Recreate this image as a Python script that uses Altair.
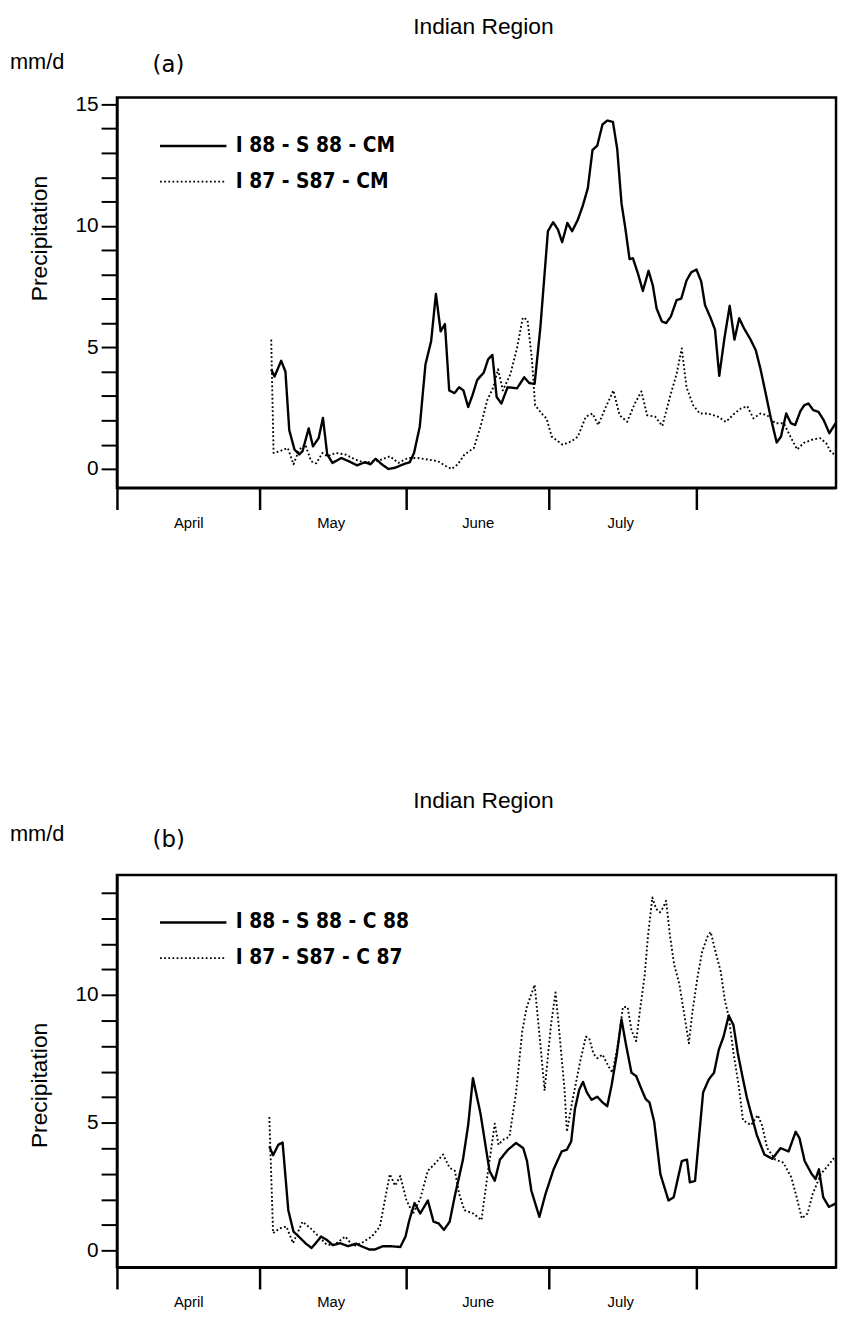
import altair as alt
import pandas as pd

# ---------------- data (day 0 = 1 April) ----------------
MONTH_TICKS = [0, 30, 61, 91, 122]
MONTH_NAMES = ["April", "May", "June", "July", ""]
X_MAX = 151.5

PANEL_TITLE = "Indian Region"
Y_UNIT = "mm/d"
Y_TITLE = "Precipitation"

A_TAG = "(a)"
A_NAMES = ["I 88 - S 88 - CM", "I 87 - S87 - CM"]
a88_day = [32.5, 33.2, 34.6, 35.5, 36.3, 37.4, 38.4, 39.1, 40.4, 41.3, 42.5, 43.4, 44.3, 45.4, 47.3, 48.8,
           50.6, 52.3, 53.4, 54.5, 55.8, 57.2, 58.6, 60.3, 61.7, 62.6, 63.8, 65.0, 66.2, 67.2, 68.2, 69.1,
           70.0, 71.1, 72.1, 73.0, 74.0, 74.9, 75.9, 77.3, 78.2, 79.1, 80.0, 81.0, 82.3, 84.3, 85.8, 86.9,
           88.0, 89.2, 90.8, 91.9, 92.9, 93.8, 94.9, 95.9, 97.1, 98.1, 99.2, 100.2, 101.2, 102.3, 103.3,
           104.5, 105.4, 106.3, 107.1, 108.0, 108.7, 109.8, 110.8, 112.0, 112.9, 113.7, 114.8, 115.7, 116.7,
           117.9, 118.9, 120.0, 121.0, 122.1, 123.1, 123.9, 125.1, 126.0, 126.9, 128.0, 129.1, 130.1, 131.1,
           132.1, 133.5, 134.6, 135.6, 136.7, 137.7, 139.0, 139.9, 141.0, 142.0, 142.9, 144.0, 144.8, 145.7,
           146.7, 147.8, 148.9, 150.1, 151.4]
a88_val = [4.1, 3.8, 4.45, 4.0, 1.6, 0.8, 0.6, 0.73, 1.67, 0.93, 1.27, 2.1, 0.6, 0.25, 0.45, 0.32,
           0.15, 0.28, 0.19, 0.42, 0.19, 0.0, 0.05, 0.19, 0.28, 0.66, 1.74, 4.3, 5.26, 7.2, 5.66, 5.96,
           3.23, 3.12, 3.36, 3.23, 2.55, 3.03, 3.66, 3.97, 4.51, 4.69, 2.96, 2.69, 3.36, 3.32, 3.77, 3.53,
           3.5, 5.8, 9.78, 10.15, 9.85, 9.33, 10.12, 9.78, 10.25, 10.8, 11.54, 13.12, 13.3, 14.17, 14.33,
           14.27, 13.16, 10.93, 9.92, 8.63, 8.67, 8.02, 7.32, 8.15, 7.55, 6.6, 6.07, 6.0, 6.27,
           6.94, 7.01, 7.75, 8.09, 8.2, 7.71, 6.74, 6.2, 5.73, 3.83, 5.39, 6.71, 5.32, 6.2,
           5.79, 5.32, 4.88, 4.1, 3.09, 2.15, 1.09, 1.33, 2.28, 1.88, 1.81, 2.38, 2.62, 2.69,
           2.42, 2.35, 2.01, 1.47, 1.88]
a87_day = [32.5, 33.0, 34.3, 36.0, 37.2, 38.4, 39.7, 40.9, 42.0, 43.3, 44.3, 46.1, 48.2, 50.2, 52.3, 54.1,
           55.8, 57.5, 59.3, 61.3, 63.4, 65.5, 67.6, 69.3, 70.5, 71.8, 73.2, 75.2, 76.6, 78.0, 79.3, 80.3,
           81.3, 82.9, 84.3, 85.5, 86.5, 87.4, 88.1, 89.8, 90.5, 91.6, 93.9, 95.7, 97.1, 98.8, 100.2, 101.4,
           103.0, 104.6, 105.9, 107.5, 109.1, 110.5, 111.7, 113.4, 114.9, 116.5, 117.9, 119.0, 120.0, 121.4,
           122.8, 124.5, 126.6, 128.3, 130.1, 131.4, 132.8, 134.1, 135.6, 137.0, 138.7, 140.5, 141.9, 143.3,
           144.7, 146.4, 148.1, 149.4, 150.5, 151.4]
a87_val = [5.32, 0.66, 0.73, 0.86, 0.19, 0.8, 1.0, 0.32, 0.23, 0.66, 0.52, 0.66, 0.59, 0.39, 0.25, 0.32,
           0.39, 0.52, 0.25, 0.45, 0.45, 0.39, 0.32, 0.12, 0.0, 0.19, 0.59, 0.86, 1.74, 2.82, 3.36, 4.1,
           3.23, 3.9, 4.98, 6.23, 6.13, 4.58, 2.62, 2.21, 2.08, 1.33, 1.0, 1.13, 1.33, 2.15, 2.28, 1.81,
           2.55, 3.23, 2.21, 1.94, 2.69, 3.19, 2.21, 2.15, 1.77, 2.96, 3.9, 4.96, 3.36, 2.62,
           2.28, 2.28, 2.15, 1.94, 2.28, 2.48, 2.58, 2.08, 2.28, 2.21, 1.88, 1.88, 1.33, 0.8,
           1.07, 1.2, 1.27, 1.07, 0.66, 0.6]

B_TAG = "(b)"
B_NAMES = ["I 88 - S 88 - C 88", "I 87 - S87 - C 87"]
b88_day = [32.1, 32.9, 34.0, 34.9, 36.1, 37.2, 38.3, 39.7, 41.0, 41.9, 43.0, 44.2, 45.5, 47.0, 48.7, 50.4,
           51.5, 53.2, 54.3, 56.0, 57.7, 59.7, 60.8, 61.6, 62.7, 63.9, 65.5, 66.7, 67.8, 68.9, 70.1, 71.2,
           72.9, 74.0, 75.0, 76.6, 77.9, 78.5, 79.6, 80.7, 82.4, 84.1, 85.6, 86.4, 87.3, 89.0, 90.3, 92.0,
           93.7, 94.8, 95.7, 96.5, 97.4, 98.2, 99.0, 100.0, 101.2, 102.3, 103.3, 104.2, 105.3, 106.3, 107.2,
           108.4, 109.4, 110.5, 111.4, 112.2, 113.2, 114.5, 116.2, 117.3, 119.0, 120.1, 120.7, 121.8, 123.5,
           124.7, 125.8, 126.8, 127.8, 128.9, 129.9, 130.8, 131.8, 132.7, 133.7, 134.8, 136.4, 138.1, 139.8,
           141.5, 143.0, 143.8, 144.9, 146.4, 147.2, 147.9, 148.8, 150.0, 151.3, 152.2]
b88_val = [4.08, 3.73, 4.14, 4.23, 1.58, 0.74, 0.55, 0.29, 0.1, 0.29, 0.55, 0.42, 0.21, 0.29, 0.17, 0.27,
           0.17, 0.04, 0.04, 0.17, 0.17, 0.14, 0.55, 1.19, 1.86, 1.45, 1.96, 1.13, 1.06, 0.81, 1.13, 2.15,
           3.56, 4.91, 6.75, 5.36, 3.82, 3.12, 2.73, 3.56, 3.95, 4.21, 4.01, 3.5, 2.35, 1.32, 2.22, 3.18,
           3.88, 3.95, 4.27, 5.55, 6.3, 6.6, 6.19, 5.9, 6.02, 5.8, 5.65, 6.45, 7.66, 9.05, 8.11,
           6.96, 6.83, 6.32, 5.93, 5.8, 5.03, 2.99, 1.96, 2.09, 3.5, 3.56, 2.67, 2.73, 6.19,
           6.7, 6.96, 7.86, 8.37, 9.2, 8.82, 7.73, 6.8, 6.0, 5.3, 4.53, 3.76, 3.59, 4.01,
           3.88, 4.65, 4.4, 3.5, 2.99, 2.8, 3.18, 2.09, 1.71, 1.83, 2.03]
b87_day = [32.1, 32.9, 34.3, 35.7, 37.1, 39.1, 40.8, 42.5, 44.2, 45.9, 48.1, 49.8, 51.5, 53.7, 55.4, 56.5,
           57.5, 58.6, 59.7, 61.0, 62.4, 63.9, 65.5, 67.2, 68.7, 70.1, 71.2, 72.1, 73.2, 75.1, 76.8, 77.9,
           79.6, 80.4, 81.3, 82.7, 84.1, 85.4, 86.3, 88.0, 89.2, 90.1, 91.4, 92.4, 93.1, 94.3, 94.8, 95.9,
           97.6, 98.8, 99.5, 100.4, 101.2, 102.3, 103.6, 104.4, 105.6, 106.6, 107.6, 108.4, 109.4, 110.1,
           111.2, 111.9, 112.8, 113.6, 114.4, 115.1, 115.7, 116.5, 117.4, 118.5, 119.5, 120.5, 121.2, 122.3,
           123.3, 124.4, 125.1, 126.1, 127.2, 128.1, 128.9, 129.9, 131.0, 131.9, 133.6, 135.0, 135.9, 137.0,
           138.7, 140.4, 142.1, 143.2, 144.3, 145.5, 146.6, 148.3, 150.0, 151.1, 152.2]
b87_val = [5.23, 0.68, 0.87, 0.94, 0.29, 1.13, 0.87, 0.55, 0.23, 0.23, 0.55, 0.17, 0.29, 0.55, 0.94, 2.03,
           2.99, 2.54, 2.92, 1.96, 1.45, 2.03, 3.12, 3.44, 3.76, 3.24, 3.12, 2.22, 1.58, 1.45, 1.19, 2.73,
           4.97, 4.14, 4.33, 4.46, 6.2, 8.6, 9.5, 10.4, 8.1, 6.26, 8.76, 10.1, 8.76, 6.3, 4.65, 5.81,
           7.4, 8.37, 8.3, 7.7, 7.53, 7.67, 7.2, 6.96, 8.11, 9.53, 9.53, 8.62, 8.2, 9.27,
           10.8, 12.34, 13.82, 13.37, 13.24, 13.43, 13.69, 12.34, 11.19, 10.42, 9.27, 8.11, 9.27, 10.68,
           11.7, 12.28, 12.47, 11.7, 10.93, 9.78, 9.14, 7.73, 6.45, 5.1, 4.91, 5.3, 4.91, 4.01,
           3.56, 3.44, 2.86, 2.09, 1.26, 1.45, 2.22, 2.99, 3.37, 3.63, 3.24]

# ---------------- styling ----------------
SANS = "Liberation Sans, Arial, Helvetica, sans-serif"
STENCIL = "Liberation Sans Narrow, DejaVu Sans Condensed, DejaVu Sans Mono, monospace"
W = 726

month_expr = " : ".join(
    f"datum.value == {v} ? '{n}'" for v, n in zip(MONTH_TICKS, MONTH_NAMES)
) + " : ''"


def panel(d88, v88, d87, v87, names, tag, ydom, ymax_tick, height, ytitle_y, legend_y, title_dy, mm_dy, tag_dy):
    df = pd.concat([
        pd.DataFrame({"day": d88, "value": v88, "series": names[0]}),
        pd.DataFrame({"day": d87, "value": v87, "series": names[1]}),
    ])
    lines = alt.Chart(df).mark_line(clip=True, color="black", strokeJoin="round").encode(
        x=alt.X("day:Q",
                scale=alt.Scale(domain=[0, X_MAX], nice=False, zero=False),
                axis=alt.Axis(values=MONTH_TICKS, labelExpr=month_expr, title=None, grid=False,
                              tickSize=22, tickWidth=2.5, tickColor="black",
                              domainColor="black", domainWidth=2.5,
                              labelOffset=72, labelPadding=6, labelFont=SANS, labelFontSize=15,
                              labelColor="black", labelOverlap=False, labelFlush=False, labelBound=False)),
        y=alt.Y("value:Q",
                scale=alt.Scale(domain=ydom, nice=False, zero=False),
                axis=alt.Axis(values=list(range(0, ymax_tick + 1)),
                              labelExpr="datum.value % 5 == 0 ? datum.label : ''",
                              title=Y_TITLE, titleFont=SANS, titleFontSize=23, titleFontWeight="normal",
                              titleColor="black", titleX=-66, titleY=ytitle_y, titleAngle=-90,
                              titleAlign="center", titleBaseline="bottom",
                              grid=False, tickSize=16, tickWidth=2, tickColor="black",
                              domainColor="black", domainWidth=2.5,
                              labelFont=SANS, labelFontSize=21, labelColor="black", labelPadding=3,
                              labelOverlap=False, labelFlush=False, labelBound=False)),
        strokeDash=alt.StrokeDash("series:N",
                                  scale=alt.Scale(domain=names, range=[[1, 0], [1.8, 2.4]]),
                                  legend=alt.Legend(title=None, orient="none", legendX=42, legendY=legend_y,
                                                    symbolType="stroke", symbolSize=4500,
                                                    symbolStrokeWidth=1.9, symbolStrokeColor="black",
                                                    clipHeight=22, rowPadding=14, padding=0,
                                                    labelFont=STENCIL, labelFontSize=21,
                                                    labelFontWeight="bold", labelColor="black",
                                                    labelOffset=8, labelLimit=400)),
        strokeWidth=alt.StrokeWidth("series:N",
                                    scale=alt.Scale(domain=names, range=[2.4, 1.9]), legend=None),
        order="day:Q",
    )
    t_title = alt.Chart(pd.DataFrame({"t": [PANEL_TITLE]})).mark_text(
        font=SANS, fontSize=23, color="black", align="center", baseline="middle"
    ).encode(text="t:N", x=alt.value(370), y=alt.value(title_dy))
    t_mm = alt.Chart(pd.DataFrame({"t": [Y_UNIT]})).mark_text(
        font=SANS, fontSize=22, color="black", align="left", baseline="middle"
    ).encode(text="t:N", x=alt.value(-108), y=alt.value(mm_dy))
    t_tag = alt.Chart(pd.DataFrame({"t": [tag]})).mark_text(
        font="DejaVu Sans", fontSize=23, color="black", align="left", baseline="middle"
    ).encode(text="t:N", x=alt.value(36), y=alt.value(tag_dy))
    return alt.layer(lines, t_title, t_mm, t_tag).properties(width=W, height=height)


pa = panel(a88_day, a88_val, a87_day, a87_val, A_NAMES, A_TAG, [-0.77, 15.28], 15, 394,
           142, 38, -71, -36, -33)
pb = panel(b88_day, b88_val, b87_day, b87_val, B_NAMES, B_TAG, [-0.65, 14.7], 14, 396,
           212, 37, -75, -41, -35)

chart = alt.vconcat(pa, pb, spacing=258).resolve_scale(
    strokeDash="independent", strokeWidth="independent", x="independent", y="independent"
).resolve_legend(strokeDash="independent").properties(
    padding={"left": 0, "top": 0, "right": 0, "bottom": 0}
).configure_view(stroke="black", strokeWidth=2.5)

chart.save("out.html", embed_options={"renderer": "svg", "actions": False})
